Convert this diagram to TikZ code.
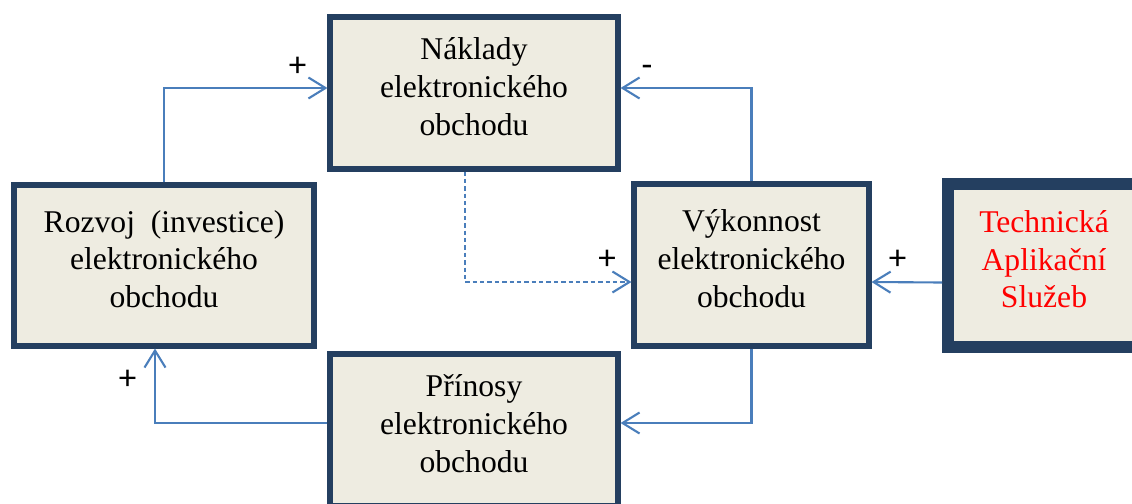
\documentclass[tikz,border=0pt]{standalone}
\usepackage{fontspec}
\setmainfont{Liberation Serif}
\newfontfamily\signfont{Carlito}
\usetikzlibrary{arrows.meta,positioning,calc}
\definecolor{boxnavy}{RGB}{36,63,96}
\definecolor{boxbeige}{RGB}{238,236,225}
\definecolor{linkblue}{RGB}{74,126,187}

\begin{document}
\begin{tikzpicture}[>={Straight Barb[length=3.4mm,width=4.2mm]},
  b/.style={draw=boxnavy,fill=boxbeige,line width=2.9pt,align=center,text depth=0.26cm,
    font=\fontsize{18}{21.6}\selectfont,minimum width=5.76cm,minimum height=3.04cm},
  link/.style={draw=linkblue,line width=1.2pt,->},
  sgn/.style={font=\signfont\fontsize{20}{24}\selectfont}]
\useasboundingbox (0,0) rectangle (22.64,10.06);
\node[b] (nakl) at (9.48,8.2) {Náklady\\elektronického\\obchodu};
\node[b,minimum width=6.0cm,minimum height=3.22cm] (rozv) at (3.28,4.75)
  {Rozvoj~~(investice)\\elektronického\\obchodu};
\node[b,minimum width=4.7cm,minimum height=3.24cm] (vyk) at (15.03,4.76)
  {Výkonnost\\elektronického\\obchodu};
\node[b,line width=6.8pt,minimum width=3.84cm,minimum height=3.26cm,text=red] (tech) at (20.88,4.75)
  {Technická\\Aplikační\\Služeb};
\node[b] (prin) at (9.48,1.46) {Přínosy\\elektronického\\obchodu};
% vazby
\draw[link] (rozv.north) |- ([yshift=1mm]nakl.west);
\draw[link] (vyk.north) |- ([yshift=1mm]nakl.east);
\draw[link,dash pattern=on 2.5pt off 1.7pt] ([xshift=-1.8mm]nakl.south) |- ([yshift=-3.4mm]vyk.west);
\draw[link] ([yshift=-3.4mm]tech.west) -- ([yshift=-3.4mm]vyk.east);
\draw[link] (vyk.south) |- ([yshift=1.4mm]prin.east);
\draw[link] ([yshift=1.4mm]prin.west) -| ([xshift=-1.8mm]rozv.south);
% znamenka
\node[sgn] (s1) at (5.95,8.72) {+};
\node[sgn] (s2) at (12.94,8.64) {-};
\node[sgn] (s3) at (12.14,4.86) {+};
\node[sgn] (s4) at (17.95,4.86) {+};
\node[sgn] (s5) at (2.55,2.46) {+};
\end{tikzpicture}
\end{document}
